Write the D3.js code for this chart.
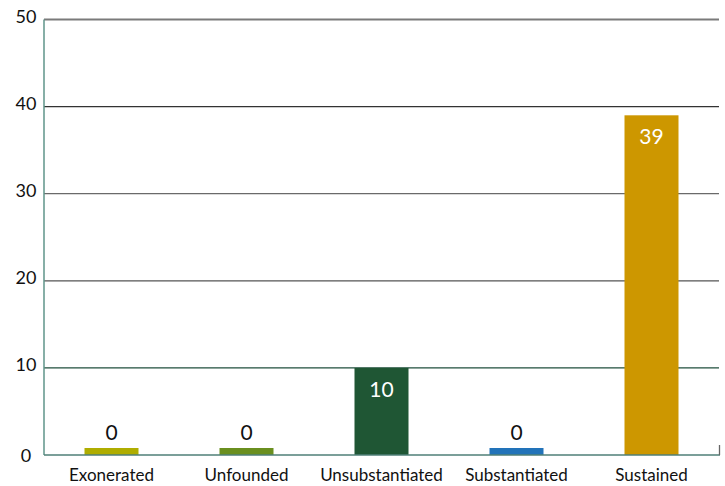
<!DOCTYPE html>
<html><head><meta charset="utf-8">
<script src="https://cdn.jsdelivr.net/npm/d3@7/dist/d3.min.js"></script>
<style>body{margin:0;background:#fff}svg{display:block}text{font-family:Lato,"Open Sans",sans-serif}</style>
</head><body><svg id="c" width="725" height="486"></svg>
<script>
const categories = ["Exonerated","Unfounded","Unsubstantiated","Substantiated","Sustained"];
const values = [0,0,10,0,39];
const colors = ["#afad00","#6a8f1f","#1f5634","#2273b9","#cd9700"];
const yTicks = [0,10,20,30,40,50];
const gridColors = {10:"#1f4f3c",20:"#555555",30:"#6a6a6a",40:"#333333",50:"#7a7a7a"};

const W=725,H=486, m={l:44,r:6,t:19.5,b:31};
const svg=d3.select("#c");
const x=d3.scaleBand().domain(categories).range([m.l,W-m.r]).paddingInner(0.6).paddingOuter(0.3);
const y=d3.scaleLinear().domain([0,50]).range([H-m.b,m.t]);
const minH=7;

svg.append("g").selectAll("line").data(yTicks.filter(d=>d>0)).join("line")
 .attr("x1",m.l).attr("x2",W-m.r).attr("y1",d=>y(d)).attr("y2",d=>y(d))
 .attr("stroke",d=>gridColors[d]).attr("stroke-width",d=>d==50?2:1.3);

svg.append("g").selectAll("rect").data(values).join("rect")
 .attr("x",(d,i)=>x(categories[i])).attr("width",x.bandwidth())
 .attr("y",d=>Math.min(y(d),y(0)-minH)).attr("height",d=>Math.max(y(0)-y(d),minH))
 .attr("fill",(d,i)=>colors[i]);

// axes lines
svg.append("line").attr("x1",m.l).attr("x2",m.l).attr("y1",m.t).attr("y2",y(0)).attr("stroke","#5f948a").attr("stroke-width",1.5);
svg.append("line").attr("x1",m.l).attr("x2",W-m.r+1).attr("y1",y(0)).attr("y2",y(0)).attr("stroke","#4f7f77").attr("stroke-width",1.6);
svg.append("line").attr("x1",W-m.r+0.5).attr("x2",W-m.r+0.5).attr("y1",y(0)-10).attr("y2",y(0)).attr("stroke","#666").attr("stroke-width",1.3);

svg.append("g").selectAll("text").data(yTicks).join("text")
 .attr("x",26).attr("y",d=>y(d)+ (d==0?7:3)).attr("text-anchor","middle").attr("font-size",18).attr("fill","#111").text(d=>d);

svg.append("g").selectAll("text").data(categories).join("text")
 .attr("x",d=>x(d)+x.bandwidth()/2).attr("y",481).attr("text-anchor","middle").attr("font-size",17).attr("fill","#111").text(d=>d);

svg.append("g").selectAll("text").data(values).join("text")
 .attr("x",(d,i)=>x(categories[i])+x.bandwidth()/2)
 .attr("y",d=>d>5? y(d)+29 : y(0)-minH-8)
 .attr("text-anchor","middle").attr("font-size",21)
 .attr("fill",d=>d>5?"#fff":"#111").text(d=>d);
</script></body></html>
